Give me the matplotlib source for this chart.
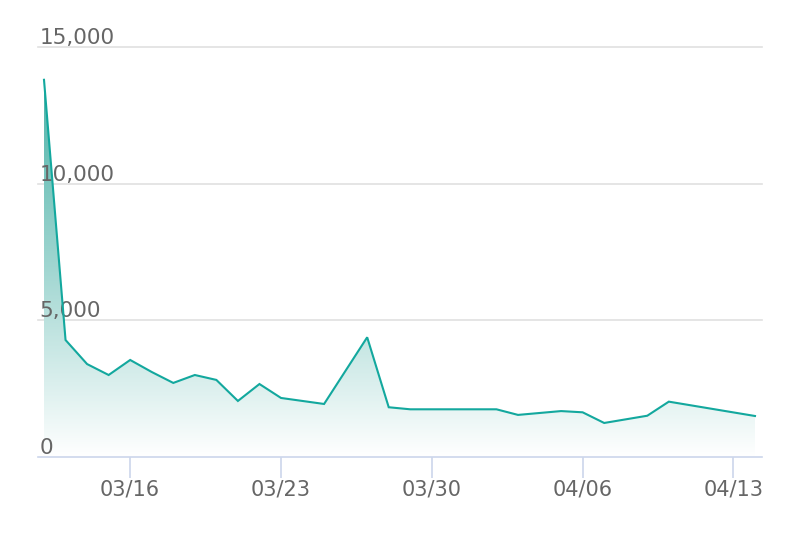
import matplotlib
matplotlib.use("Agg")
import matplotlib.pyplot as plt
import matplotlib.dates as mdates
import numpy as np
import datetime as dt
from matplotlib.patches import Polygon
from matplotlib.colors import LinearSegmentedColormap

dates = ["2020-03-12", "2020-03-13", "2020-03-14", "2020-03-15", "2020-03-16",
         "2020-03-17", "2020-03-18", "2020-03-19", "2020-03-20", "2020-03-21",
         "2020-03-22", "2020-03-23", "2020-03-25", "2020-03-27", "2020-03-28",
         "2020-03-29", "2020-04-02", "2020-04-03", "2020-04-05", "2020-04-06",
         "2020-04-07", "2020-04-09", "2020-04-10", "2020-04-14"]
values = [13800, 4280, 3400, 3000, 3550,
          3110, 2710, 3000, 2820, 2050,
          2670, 2160, 1940, 4380, 1820,
          1745, 1745, 1540, 1680, 1635,
          1245, 1510, 2025, 1500]
tick_dates = ["2020-03-16", "2020-03-23", "2020-03-30", "2020-04-06", "2020-04-13"]
tick_labels = ["03/16", "03/23", "03/30", "04/06", "04/13"]
y_ticks = [0, 5000, 10000, 15000]
y_labels = ["0", "5,000", "10,000", "15,000"]

line_color = "#13a89e"
text_color = "#666666"

x = mdates.date2num([dt.datetime.strptime(d, "%Y-%m-%d") for d in dates])
xt = mdates.date2num([dt.datetime.strptime(d, "%Y-%m-%d") for d in tick_dates])
y = np.array(values, dtype=float)

fig = plt.figure(figsize=(7.94, 5.34), dpi=100)
W, H = 794, 534
left, right, top, bottom = 38, 762, 47, 457
ax = fig.add_axes([left / W, 1 - bottom / H, (right - left) / W, (bottom - top) / H])

ppd = (755 - 44) / (x[-1] - x[0])
ax.set_xlim(x[0] - (44 - left) / ppd, x[-1] + (right - 755) / ppd)
ax.set_ylim(0, 15000)

grad = np.linspace(0, 1, 256).reshape(-1, 1)
cmap = LinearSegmentedColormap.from_list("g", [(1, 1, 1, 1), (0.63, 0.84, 0.82, 1), (0.30, 0.70, 0.66, 1)])
ymax = y.max()
im = ax.imshow(grad, extent=[x[0], x[-1], 0, ymax], origin="lower", aspect="auto",
               cmap=cmap, vmin=0, vmax=1, zorder=1)
poly = Polygon(np.column_stack([np.r_[x[0], x, x[-1]], np.r_[0, y, 0]]), closed=True,
               facecolor="none", edgecolor="none", transform=ax.transData)
ax.add_patch(poly)
im.set_clip_path(poly)

ax.plot(x, y, color=line_color, lw=1.5, zorder=3, solid_joinstyle="miter")

for v in y_ticks[1:]:
    ax.axhline(v, color="#e0e0e0", lw=1.2, zorder=0, clip_on=False)

for s in ["top", "right", "left"]:
    ax.spines[s].set_visible(False)
ax.spines["bottom"].set_color("#ccd6eb")
ax.spines["bottom"].set_linewidth(1.2)

ax.set_yticks([])
ax.set_xticks(xt)
ax.set_xticklabels(tick_labels)
ax.tick_params(axis="x", length=15, width=1.2, color="#ccd6eb", labelcolor=text_color,
               labelsize=15, pad=1.5, direction="out")

for v, lab in zip(y_ticks, y_labels):
    ax.text(0.002, v - 40, lab, transform=ax.get_yaxis_transform(), ha="left", va="bottom",
            fontsize=15.5, color=text_color, zorder=2)

ax.patch.set_alpha(0)
fig.savefig("out.png", dpi=100)
